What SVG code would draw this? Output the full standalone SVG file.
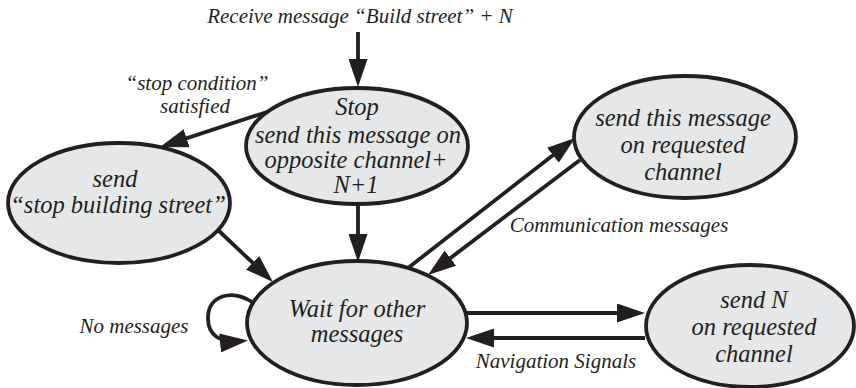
<svg xmlns="http://www.w3.org/2000/svg" width="856" height="388" viewBox="0 0 856 388">
<style>
.n ellipse{fill:#e6e7e8;stroke:#231f20;stroke-width:3.8}
text{font-family:"Liberation Serif","Times New Roman",serif;font-style:italic;fill:#231f20;text-anchor:middle}
.t{font-size:24.5px}
.l{font-size:21px}
.c path{fill:none;stroke:#231f20;stroke-width:3.8;marker-end:url(#ah)}
</style>
<defs>
<marker id="ah" markerUnits="userSpaceOnUse" markerWidth="28" markerHeight="19" refX="22" refY="9.5" orient="auto" viewBox="0 0 28 19">
<path d="M0,0 L28,9.5 L0,19 z" fill="#231f20"/>
</marker>
</defs>
<g id="stop" class="n">
<ellipse cx="357" cy="146" rx="111" ry="58"/>
<text class="t" x="357" y="115">Stop</text>
<text class="t" x="358" y="143">send this message on</text>
<text class="t" x="356" y="168">opposite channel+</text>
<text class="t" x="356" y="193">N+1</text>
</g>
<g id="stopbuild" class="n">
<ellipse cx="119" cy="203" rx="111" ry="60"/>
<text class="t" x="115" y="187">send</text>
<text class="t" x="118" y="213">“stop building street”</text>
</g>
<g id="wait" class="n">
<ellipse cx="357" cy="323" rx="110" ry="62"/>
<text class="t" x="357" y="317">Wait for other</text>
<text class="t" x="357" y="342">messages</text>
</g>
<g id="sendmsg" class="n">
<ellipse cx="685" cy="137" rx="111" ry="61"/>
<text class="t" x="683" y="126">send this message</text>
<text class="t" x="683" y="153">on requested</text>
<text class="t" x="683" y="180">channel</text>
</g>
<g id="sendn" class="n">
<ellipse cx="750" cy="326" rx="104" ry="61"/>
<text class="t" x="754" y="308">send N</text>
<text class="t" x="754" y="335">on requested</text>
<text class="t" x="754" y="362">channel</text>
</g>
<g id="connectors" class="c">
<path d="M358,32 L358,81"/>
<path d="M267,112 L165.7,145.1"/>
<path d="M358,204 L358,256"/>
<path d="M218,230 L268.6,277.9"/>
<path d="M408,268 L570.3,141.7"/>
<path d="M580,160 L432.8,271.4"/>
<path d="M467,313 L639,313"/>
<path d="M645,338 L472,338"/>
<path d="M252,302 C232,289 208,295 208,318 C208,336 220,343 242,341"/>
</g>
<g id="labels">
<text class="l" x="360" y="23">Receive message “Build street” + N</text>
<text class="l" x="197" y="90">“stop condition”</text>
<text class="l" x="195" y="113">satisfied</text>
<text class="l" x="134" y="333">No messages</text>
<text class="l" x="619" y="232">Communication messages</text>
<text class="l" x="556" y="368">Navigation Signals</text>
</g>
</svg>
